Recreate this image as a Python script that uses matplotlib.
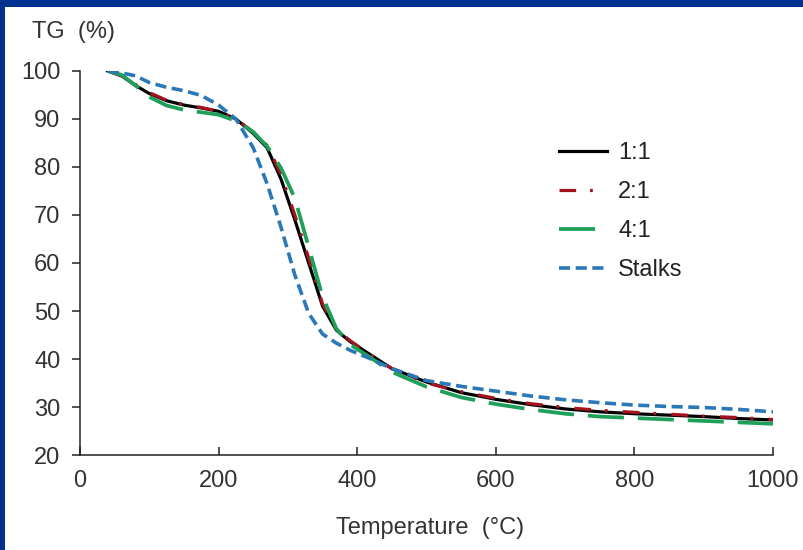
import matplotlib.pyplot as plt
from matplotlib.patches import Rectangle

plt.rcParams['font.family'] = ['Liberation Sans', 'DejaVu Sans']
plt.rcParams['lines.scale_dashes'] = False

# temperature grid (°C) and mass remaining (%) per sample
temperature = [40, 60, 80, 100, 125, 150, 175, 200, 225, 250, 270, 290, 310, 330, 350,
               370, 390, 420, 450, 500, 550, 600, 650, 700, 750, 800, 850, 900, 950, 1000]

tg_1_1 = [100, 99.0, 97.0, 95.3, 93.8, 92.9, 92.3, 91.6, 90.0, 87.0, 84.0, 77.5, 69.0, 60.0, 51.0,
          46.0, 43.6, 40.8, 38.0, 35.2, 33.0, 31.6, 30.5, 29.6, 29.0, 28.6, 28.3, 28.0, 27.6, 27.3]
tg_2_1 = [100, 99.0, 97.2, 95.5, 93.9, 93.0, 92.4, 91.6, 90.0, 87.3, 84.5, 78.5, 70.0, 61.0, 51.5,
          46.2, 43.8, 40.8, 38.0, 35.0, 33.2, 31.8, 30.7, 29.9, 29.3, 28.9, 28.5, 28.1, 27.8, 27.4]
tg_4_1 = [100, 99.2, 97.0, 94.6, 92.8, 91.9, 91.4, 90.9, 89.6, 87.3, 84.3, 79.8, 73.5, 63.3, 53.0,
          46.3, 43.0, 40.2, 37.3, 34.2, 32.0, 30.6, 29.5, 28.6, 28.0, 27.7, 27.4, 27.1, 26.8, 26.5]
tg_stalks = [100, 99.6, 99.0, 97.6, 96.6, 95.9, 94.9, 92.9, 90.0, 84.0, 76.5, 67.5, 57.5, 49.5, 45.2,
             43.3, 41.8, 40.0, 38.0, 35.5, 34.3, 33.3, 32.3, 31.5, 30.9, 30.4, 30.1, 29.9, 29.5, 29.0]

labels = ['1:1', '2:1', '4:1', 'Stalks']

W, H = 804, 550
fs = 17

fig = plt.figure(figsize=(W / 100, H / 100), dpi=100)
fig.patch.set_facecolor('white')

# dark blue frame on top and left edges
fig.patches.append(Rectangle((0, 1 - 7 / H), 1, 7 / H, transform=fig.transFigure,
                             facecolor='#003090', edgecolor='none', zorder=0))
fig.patches.append(Rectangle((0, 0), 5 / W, 1, transform=fig.transFigure,
                             facecolor='#003090', edgecolor='none', zorder=0))

ax = fig.add_axes([80 / W, 1 - 455 / H, (773 - 80) / W, (455 - 71) / H])

lw = 2.3
ax.plot(temperature, tg_1_1, color='black', lw=lw, label=labels[0], zorder=3)
ax.plot(temperature, tg_2_1, color='#a3141e', lw=lw, dashes=(12, 10, 2, 11), label=labels[1], zorder=4)
ax.plot(temperature, tg_4_1, color='#1fa05a', lw=lw + 0.4, dashes=(26, 10), label=labels[2], zorder=5)
ax.plot(temperature, tg_stalks, color='#2a78b8', lw=lw + 0.3, dashes=(8, 4), label=labels[3], zorder=6)

ax.set_xlim(0, 1000)
ax.set_ylim(20, 100)
ax.set_xticks(range(0, 1001, 200))
ax.set_yticks(range(20, 101, 10))

for side in ('top', 'right'):
    ax.spines[side].set_visible(False)
for side in ('left', 'bottom'):
    ax.spines[side].set_color('#222222')
    ax.spines[side].set_linewidth(1.1)

ax.tick_params(axis='y', direction='out', length=6, width=1.1, color='#222222',
               labelsize=fs, labelcolor='#333333', pad=8)
ax.tick_params(axis='x', direction='in', length=6, width=1.1, color='#222222',
               labelsize=fs, labelcolor='#333333', pad=11)

fig.text(32 / W, 1 - 32 / H, 'TG  (%)', fontsize=fs, color='#333333', ha='left', va='center')
fig.text(430 / W, 1 - 528 / H, 'Temperature  (°C)', fontsize=fs, color='#333333',
         ha='center', va='center')

ax.legend(loc='upper left', bbox_to_anchor=(559 / W, 1 - 142 / H), bbox_transform=fig.transFigure,
          frameon=False, fontsize=fs, handlelength=2.05, handletextpad=0.45, labelspacing=0.72,
          borderpad=0, borderaxespad=0, labelcolor='#222222')

fig.savefig('out.png', dpi=100)
